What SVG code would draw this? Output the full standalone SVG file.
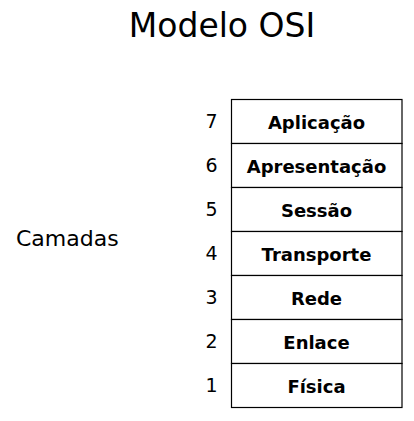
<svg xmlns="http://www.w3.org/2000/svg" width="414" height="421" viewBox="0 0 414 421">
<style>
.t{font-family:"DejaVu Sans",Verdana,sans-serif;fill:#000}
.title{font-size:33px;text-anchor:middle}
.num{font-size:19px;text-anchor:middle}
.lbl{font-size:18px;font-weight:bold;text-anchor:middle}
.cell{fill:#fff;stroke:#000;stroke-width:1.2}
</style>
<rect width="414" height="421" fill="#fff"/>
<text class="t title" x="222" y="36.5">Modelo OSI</text>
<text class="t" x="16" y="245.5" font-size="22">Camadas</text>
<g id="layer7"><rect class="cell" x="231.5" y="99.5" width="170.5" height="44"/><text class="t num" x="211.5" y="128">7</text><text class="t lbl" x="316.5" y="129">Aplicação</text></g>
<g id="layer6"><rect class="cell" x="231.5" y="143.5" width="170.5" height="44"/><text class="t num" x="211.5" y="172">6</text><text class="t lbl" x="316.5" y="173">Apresentação</text></g>
<g id="layer5"><rect class="cell" x="231.5" y="187.5" width="170.5" height="44"/><text class="t num" x="211.5" y="216">5</text><text class="t lbl" x="316.5" y="217">Sessão</text></g>
<g id="layer4"><rect class="cell" x="231.5" y="231.5" width="170.5" height="44"/><text class="t num" x="211.5" y="260">4</text><text class="t lbl" x="316.5" y="261">Transporte</text></g>
<g id="layer3"><rect class="cell" x="231.5" y="275.5" width="170.5" height="44"/><text class="t num" x="211.5" y="304">3</text><text class="t lbl" x="316.5" y="305">Rede</text></g>
<g id="layer2"><rect class="cell" x="231.5" y="319.5" width="170.5" height="44"/><text class="t num" x="211.5" y="348">2</text><text class="t lbl" x="316.5" y="349">Enlace</text></g>
<g id="layer1"><rect class="cell" x="231.5" y="363.5" width="170.5" height="44"/><text class="t num" x="211.5" y="392">1</text><text class="t lbl" x="316.5" y="393">Física</text></g>
<g id="connectors"/>
</svg>
